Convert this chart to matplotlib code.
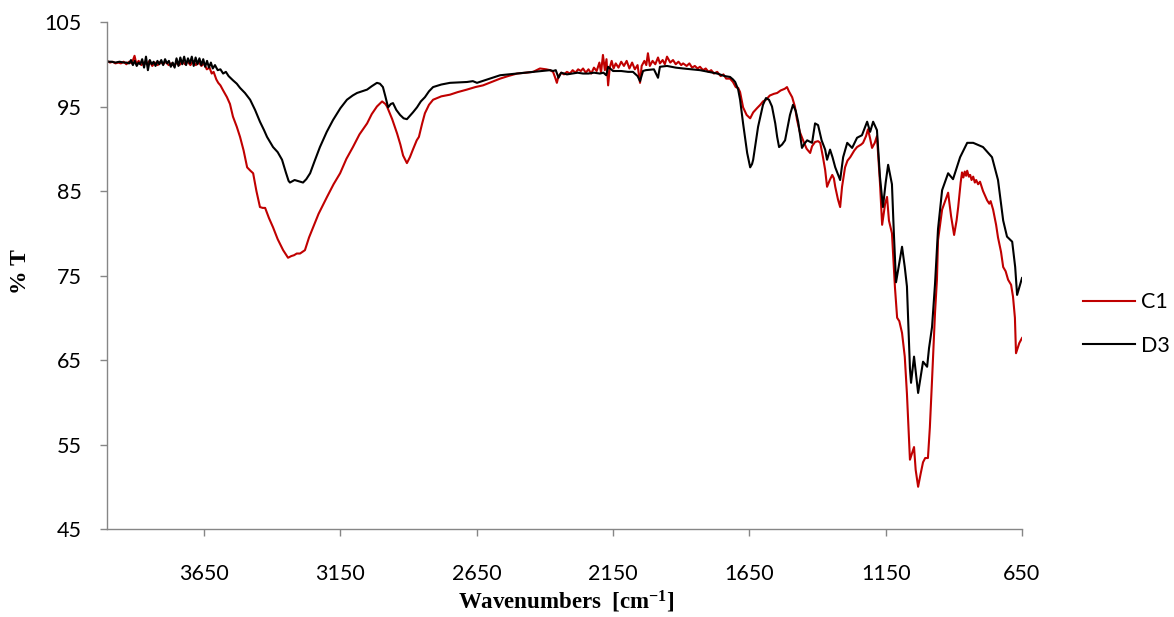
import matplotlib.pyplot as plt

# Espectros IR (números de onda en cm-1, transmitancia en %)
c1_wn = [4006, 3995, 3985, 3975, 3965, 3955, 3945, 3935, 3925, 3915, 3905, 3898, 3890, 3880,
         3870, 3860, 3850, 3840, 3830, 3820, 3810, 3800, 3790, 3780, 3770, 3760, 3750, 3740,
         3730, 3720, 3710, 3700, 3690, 3680, 3670, 3660, 3650, 3640, 3630, 3622, 3615, 3605,
         3598, 3590, 3580, 3566, 3555, 3544, 3530, 3518, 3505, 3492, 3480, 3470, 3458, 3445,
         3435, 3426, 3412, 3397, 3380, 3360, 3342, 3330, 3320, 3310, 3298, 3280, 3265, 3250,
         3230, 3199, 3175, 3151, 3128, 3104, 3080, 3052, 3035, 3016, 2997, 2985, 2979, 2960,
         2942, 2930, 2920, 2906, 2895, 2884, 2870, 2862, 2850, 2840, 2825, 2810, 2780, 2748,
         2720, 2686, 2655, 2627, 2595, 2564, 2535, 2502, 2470, 2443, 2418, 2395, 2381, 2370,
         2362, 2356, 2350, 2340, 2330, 2319, 2308, 2298, 2288, 2278, 2268, 2260, 2250, 2240,
         2230, 2220, 2210, 2200, 2194, 2187, 2180, 2174, 2168, 2162, 2155, 2148, 2140, 2130,
         2120, 2110, 2100, 2090, 2080, 2070, 2060, 2051, 2045, 2035, 2028, 2022, 2015, 2005,
         1995, 1985, 1978, 1968, 1960, 1952, 1940, 1930, 1920, 1910, 1900, 1893, 1880, 1870,
         1860, 1850, 1840, 1831, 1820, 1810, 1800, 1790, 1780, 1768, 1755, 1745, 1735, 1721,
         1710, 1700, 1691, 1684, 1673, 1660, 1647, 1636, 1622, 1610, 1600, 1589, 1575, 1560,
         1548, 1535, 1520, 1512, 1505, 1493, 1483, 1475, 1465, 1453, 1440, 1427, 1420, 1409,
         1398, 1390, 1380, 1372, 1365, 1355, 1346, 1340, 1335, 1325, 1317, 1310, 1299, 1290,
         1280, 1265, 1255, 1240, 1233, 1222, 1215, 1207, 1200, 1190, 1182, 1171, 1163, 1152,
         1145, 1138, 1127, 1116, 1108, 1100, 1090, 1080, 1072, 1061, 1055, 1046, 1040, 1031,
         1022, 1013, 1005, 995, 988, 980, 969, 962, 958, 943, 930, 921, 910, 899,
         890, 884, 875, 870, 865, 860, 855, 851, 845, 840, 835, 829, 823, 818,
         811, 804, 793, 778, 770, 765, 756, 745, 738, 727, 719, 710, 701, 690,
         683, 676, 672, 668, 660, 650]
c1_t = [100.4, 100.2, 100.3, 100.1, 100.2, 100.1, 100.3, 100.0, 100.3, 100.1, 101.0, 100.0, 100.4, 99.9,
        100.2, 100.0, 100.4, 99.8, 100.2, 99.9, 100.3, 100.0, 100.3, 99.9, 100.1, 99.8, 100.2, 99.9,
        100.4, 100.0, 100.3, 99.9, 100.4, 99.9, 100.3, 99.8, 100.1, 99.4, 99.6, 98.9, 99.1, 98.2,
        97.8, 97.5, 96.9, 96.1, 95.3, 93.8, 92.6, 91.4, 89.8, 87.8, 87.4, 87.1, 85.0, 83.1,
        83.0, 83.0, 81.8, 80.7, 79.3, 78.0, 77.1, 77.3, 77.4, 77.6, 77.6, 78.0, 79.5, 80.7,
        82.3, 84.3, 85.8, 87.1, 88.8, 90.2, 91.7, 93.0, 94.1, 95.0, 95.6, 95.3, 95.0, 93.5,
        91.8, 90.5, 89.2, 88.3, 89.0, 89.9, 91.0, 91.4, 93.0, 94.2, 95.2, 95.8, 96.2, 96.4,
        96.7, 97.0, 97.3, 97.5, 97.9, 98.3, 98.6, 98.9, 99.0, 99.1, 99.5, 99.4, 99.3, 99.1,
        98.4, 97.8, 98.6, 99.0, 98.8, 99.1, 98.9, 99.3, 99.0, 99.4, 99.2, 99.5, 99.0, 99.4,
        98.9, 99.6, 99.2, 100.2, 99.0, 101.1, 99.3, 100.6, 97.5, 99.6, 100.4, 99.5, 100.1, 99.6,
        100.3, 99.8, 100.4, 99.5, 100.2, 99.4, 99.9, 97.8, 99.8, 100.4, 99.9, 101.3, 99.8, 100.4,
        100.0, 100.8, 100.1, 100.5, 100.0, 100.9, 100.2, 100.5, 100.0, 100.3, 99.9, 100.1, 99.8, 100.1,
        99.6, 99.8, 99.5, 99.7, 99.3, 99.5, 99.1, 99.3, 98.9, 99.1, 98.6, 98.8, 98.3, 98.3,
        97.9, 97.3, 97.2, 96.7, 94.9, 94.0, 93.6, 94.3, 94.8, 95.2, 95.6, 95.8, 96.3, 96.5,
        96.6, 96.9, 97.1, 97.3, 96.8, 96.1, 95.0, 93.4, 92.0, 91.0, 90.0, 89.5, 90.3, 90.8,
        90.9, 90.7, 89.0, 87.5, 85.5, 86.3, 86.9, 86.5, 85.5, 84.0, 83.1, 85.5, 87.8, 88.6,
        89.0, 89.8, 90.2, 90.5, 90.7, 91.5, 92.3, 91.2, 90.1, 90.7, 91.5, 86.0, 81.0, 83.5,
        84.3, 81.5, 80.0, 73.6, 70.0, 69.6, 68.2, 65.4, 61.0, 53.2, 53.8, 54.7, 52.0, 50.0,
        51.5, 52.9, 53.4, 53.4, 57.0, 62.6, 70.6, 74.5, 79.2, 82.8, 84.0, 84.8, 82.0, 79.8,
        81.5, 83.1, 86.0, 87.2, 86.6, 87.3, 86.8, 87.4, 86.7, 86.9, 86.3, 86.7, 86.0, 86.3,
        85.8, 86.1, 85.0, 83.9, 83.5, 83.8, 82.8, 81.0, 79.5, 77.8, 76.0, 75.5, 74.5, 73.9,
        72.5, 70.0, 65.8, 66.2, 67.0, 67.6]

d3_wn = [4006, 3990, 3975, 3960, 3945, 3935, 3925, 3918, 3911, 3904, 3897, 3890, 3884, 3877,
         3870, 3863, 3856, 3849, 3842, 3835, 3828, 3821, 3814, 3807, 3800, 3793, 3786, 3779,
         3772, 3765, 3758, 3751, 3744, 3737, 3730, 3723, 3716, 3709, 3702, 3695, 3688, 3681,
         3674, 3667, 3660, 3653, 3646, 3639, 3632, 3625, 3618, 3610, 3600, 3590, 3580, 3570,
         3560, 3544, 3530, 3518, 3500, 3481, 3463, 3445, 3430, 3419, 3408, 3397, 3380, 3364,
         3350, 3340, 3335, 3318, 3298, 3287, 3275, 3261, 3245, 3225, 3200, 3177, 3150, 3126,
         3105, 3089, 3070, 3052, 3035, 3016, 3005, 2994, 2985, 2975, 2965, 2957, 2945, 2931,
         2918, 2906, 2895, 2884, 2869, 2855, 2840, 2825, 2810, 2780, 2748, 2686, 2664, 2649,
         2564, 2443, 2381, 2370, 2360, 2350, 2340, 2319, 2300, 2280, 2260, 2240, 2220, 2198,
         2185, 2175, 2168, 2161, 2150, 2120, 2095, 2077, 2060, 2051, 2040, 2030, 2000, 1985,
         1978, 1952, 1920, 1893, 1860, 1831, 1800, 1768, 1740, 1721, 1710, 1702, 1691, 1684,
         1673, 1658, 1647, 1640, 1636, 1618, 1600, 1589, 1578, 1567, 1555, 1548, 1541, 1530,
         1519, 1510, 1501, 1490, 1480, 1471, 1457, 1448, 1438, 1420, 1409, 1398, 1385, 1372,
         1365, 1354, 1345, 1335, 1317, 1306, 1291, 1273, 1255, 1237, 1218, 1207, 1196, 1182,
         1171, 1160, 1150, 1141, 1127, 1120, 1112, 1100, 1090, 1080, 1072, 1061, 1057, 1046,
         1031, 1013, 998, 991, 980, 969, 958, 943, 921, 903, 877, 851, 829, 793,
         760, 738, 719, 705, 686, 675, 668, 650]
d3_t = [100.3, 100.3, 100.2, 100.3, 100.2, 100.2, 100.1, 100.5, 99.9, 100.4, 99.8, 100.2, 100.0, 100.6,
        99.6, 100.9, 99.3, 100.5, 100.0, 100.3, 99.8, 100.4, 100.0, 100.5, 99.9, 100.6, 100.1, 100.4,
        99.7, 100.2, 99.6, 100.7, 99.8, 100.8, 100.0, 100.9, 99.9, 100.7, 100.1, 100.9, 99.8, 100.8,
        100.0, 100.7, 99.9, 100.6, 99.7, 100.4, 99.6, 100.2, 99.5, 99.9, 99.3, 99.4, 98.9, 99.1,
        98.6, 98.1, 97.7, 97.2, 96.6, 95.8, 94.6, 93.2, 92.2, 91.4, 90.8, 90.2, 89.6, 88.7,
        87.2, 86.2, 86.0, 86.3, 86.1, 86.0, 86.4, 87.1, 88.5, 90.2, 92.0, 93.4, 94.8, 95.8,
        96.3, 96.6, 96.8, 97.0, 97.4, 97.8, 97.7, 97.3, 96.2, 94.9, 95.3, 95.4, 94.6, 94.0,
        93.6, 93.5, 93.9, 94.3, 94.9, 95.6, 96.1, 96.8, 97.3, 97.6, 97.8, 97.9, 98.0, 97.8,
        98.7, 99.1, 99.3, 99.2, 99.3, 98.4, 99.0, 98.8, 98.9, 99.0, 98.9, 98.9, 99.0, 98.9,
        99.0, 98.7, 99.7, 99.5, 99.2, 99.2, 99.1, 99.1, 98.6, 98.0, 99.2, 99.3, 99.4, 98.4,
        99.7, 99.8, 99.6, 99.5, 99.4, 99.3, 99.1, 98.9, 98.6, 98.5, 98.2, 97.9, 97.0, 95.8,
        93.0, 89.5, 87.8, 88.2, 88.7, 92.6, 95.2, 96.0, 95.8, 95.0, 93.0, 91.4, 90.2, 90.5,
        91.0, 92.5, 94.0, 95.2, 94.5, 93.2, 90.1, 90.6, 91.0, 90.7, 93.0, 92.8, 91.0, 89.9,
        88.7, 89.9, 89.0, 87.8, 86.3, 89.0, 90.7, 90.1, 91.3, 91.6, 93.2, 92.0, 93.2, 92.2,
        86.7, 83.1, 86.0, 88.1, 85.8, 80.0, 74.2, 76.5, 78.4, 76.0, 73.7, 64.0, 62.3, 65.4,
        61.1, 64.8, 64.2, 66.4, 68.9, 74.0, 80.5, 85.1, 87.1, 86.4, 89.0, 90.7, 90.7, 90.2,
        89.0, 86.3, 81.5, 79.6, 79.0, 76.0, 72.7, 74.7]

ticks_x = [3650, 3150, 2650, 2150, 1650, 1150, 650]
ticks_y = [45, 55, 65, 75, 85, 95, 105]

plt.rcParams['font.family'] = ['Lato', 'DejaVu Sans']
plt.rcParams['mathtext.fontset'] = 'custom'
plt.rcParams['mathtext.rm'] = 'Liberation Serif:bold'
plt.rcParams['mathtext.it'] = 'Liberation Serif:bold'
plt.rcParams['mathtext.bf'] = 'Liberation Serif:bold'

fig = plt.figure(figsize=(11.74, 6.17), dpi=100)
ax = fig.add_axes([107 / 1174, 1 - 529 / 617, (1022 - 107) / 1174, (529 - 22) / 617])

ax.plot(c1_wn, c1_t, color='#C00000', lw=1.5, label='C1')
ax.plot(d3_wn, d3_t, color='black', lw=1.5, label='D3')

ax.set_xlim(4006, 650)
ax.set_ylim(45, 105)
ax.set_xticks(ticks_x)
ax.set_yticks(ticks_y)

gris = '#868686'
for lado in ['top', 'right']:
    ax.spines[lado].set_visible(False)
for lado in ['left', 'bottom']:
    ax.spines[lado].set_color(gris)
    ax.spines[lado].set_linewidth(1.0)
ax.tick_params(axis='both', direction='out', length=5, width=1.0, color=gris,
               labelsize=15.5, labelcolor='black')
ax.tick_params(axis='y', pad=13)
ax.tick_params(axis='x', pad=20)

# Títulos de los ejes colocados a mano para que no se corten
fig.text(566 / 1174, 1 - 602 / 617, 'Wavenumbers  [cm$^{-1}$]', family='Liberation Serif',
         weight='bold', fontsize=16.5, ha='center', va='center')
fig.text(20 / 1174, 1 - 272 / 617, '% T', family='Liberation Serif', weight='bold',
         fontsize=17, rotation=90, ha='center', va='center')

ax.legend(loc='center left', bbox_to_anchor=(1083 / 1174, 1 - 324 / 617),
          bbox_transform=fig.transFigure, frameon=False, fontsize=15.5,
          handlelength=2.4, handletextpad=0.3, labelspacing=1.1, borderpad=0,
          borderaxespad=0)

fig.savefig('out.png', dpi=100)
